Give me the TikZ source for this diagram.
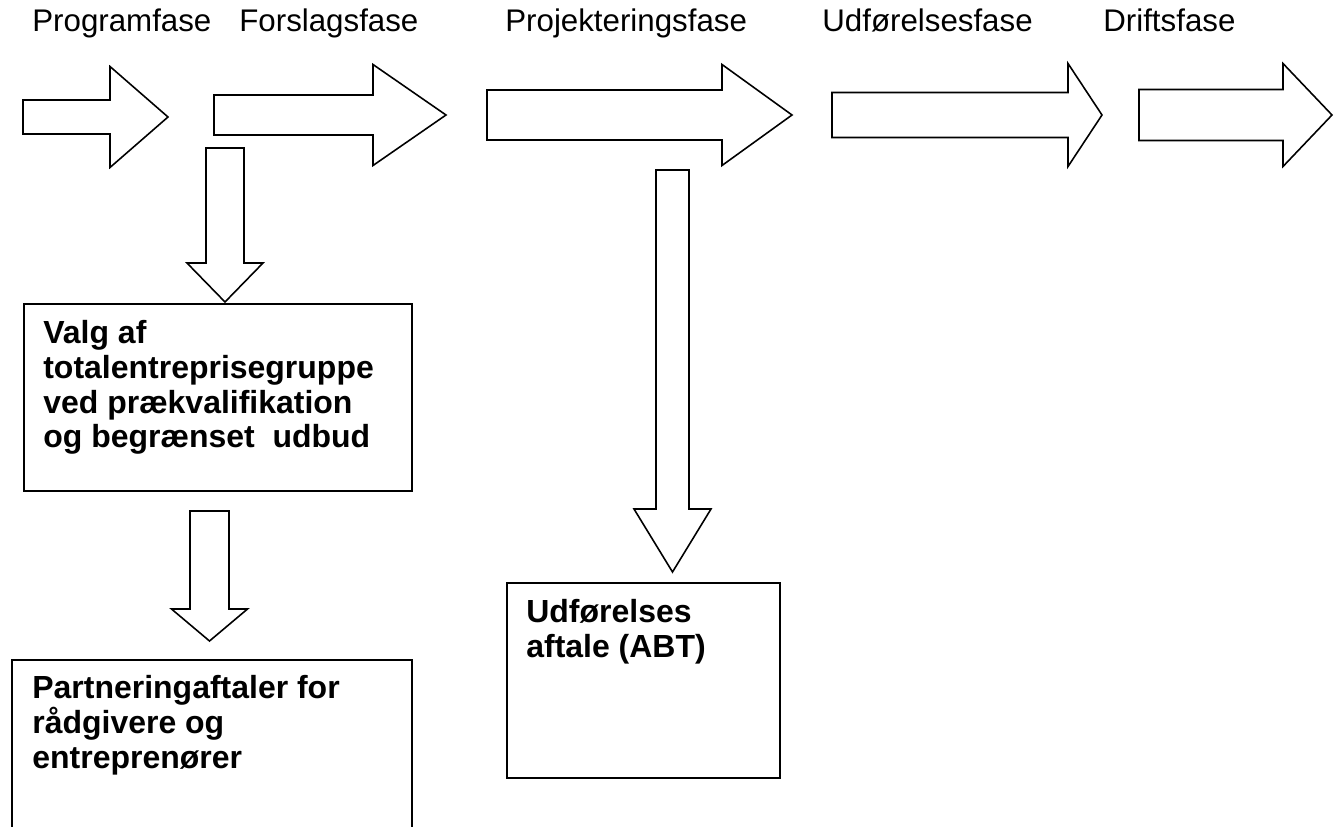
\documentclass[tikz,border=0pt]{standalone}
\usepackage{fontspec}
\setmainfont{Liberation Sans}
\usetikzlibrary{positioning}

% block arrows: tail x, mid y, half shaft, head x, half head, tip x
\newcommand{\fatright}[6]{%
  \draw[fatarrow] (#1,#2-#3) -- (#4,#2-#3) -- (#4,#2-#5) -- (#6,#2) -- (#4,#2+#5) -- (#4,#2+#3) -- (#1,#2+#3) -- cycle;}
% mid x, top y, half shaft, head y, half head, tip y
\newcommand{\fatdown}[6]{%
  \draw[fatarrow] (#1-#3,#2) -- (#1+#3,#2) -- (#1+#3,#4) -- (#1+#5,#4) -- (#1,#6) -- (#1-#5,#4) -- (#1-#3,#4) -- cycle;}

\begin{document}
\begin{tikzpicture}[x=0.02cm, y=-0.02cm,
    phase/.style={font=\fontsize{17.8}{20}\selectfont, inner sep=0pt, anchor=base west},
    box/.style={draw, line width=1pt, anchor=north west, inner sep=0pt},
    boxtext/.style={font=\fontsize{18.2}{19.8}\selectfont\bfseries, align=left, inner sep=0pt, anchor=north west},
    fatarrow/.style={draw, line width=0.9pt, fill=white, line join=miter}
]
\useasboundingbox (0,0) rectangle (1338,827);
\clip (0,0) rectangle (1338,827);

% Faser
\node[phase] (prog) at (32,32) {Programfase};
\node[phase] (forslag) at (239,32) {Forslagsfase};
\node[phase] (projekt) at (505,32) {Projekteringsfase};
\node[phase] (udfor) at (822,32) {Udførelsesfase};
\node[phase] (drift) at (1103,32) {Driftsfase};

\fatright{23}{117}{17}{110}{50.5}{168}
\fatright{214}{115}{20}{373}{50.5}{446}
\fatright{487}{115}{25}{722}{50.5}{792}
\fatright{832}{115}{22.5}{1068}{51.5}{1102}
\fatright{1139}{115}{25.5}{1283}{51.5}{1332}

% Aftaler
\node[box, minimum width=7.76cm, minimum height=3.74cm] (valg) at (23,303) {};
\node[boxtext] (valgtxt) at ([shift={(20,17)}]valg.north west) {Valg af\\totalentreprisegruppe\\ved prækvalifikation\\og begrænset~~udbud};

\node[box, minimum width=8cm, minimum height=5cm] (partner) at (11,659) {};
\node[boxtext] (partnertxt) at ([shift={(21,16)}]partner.north west) {Partneringaftaler for\\rådgivere og\\entreprenører};

\node[box, minimum width=5.46cm, minimum height=3.9cm] (aftale) at (506,582) {};
\node[boxtext] (aftaletxt) at ([shift={(20,17)}]aftale.north west) {Udførelses\\aftale (ABT)};

\fatdown{225}{148}{19}{263}{38}{302}
\fatdown{209.5}{511}{19.5}{609}{38}{641}
\fatdown{672.5}{170}{16.5}{509}{38.5}{572}
\end{tikzpicture}
\end{document}
